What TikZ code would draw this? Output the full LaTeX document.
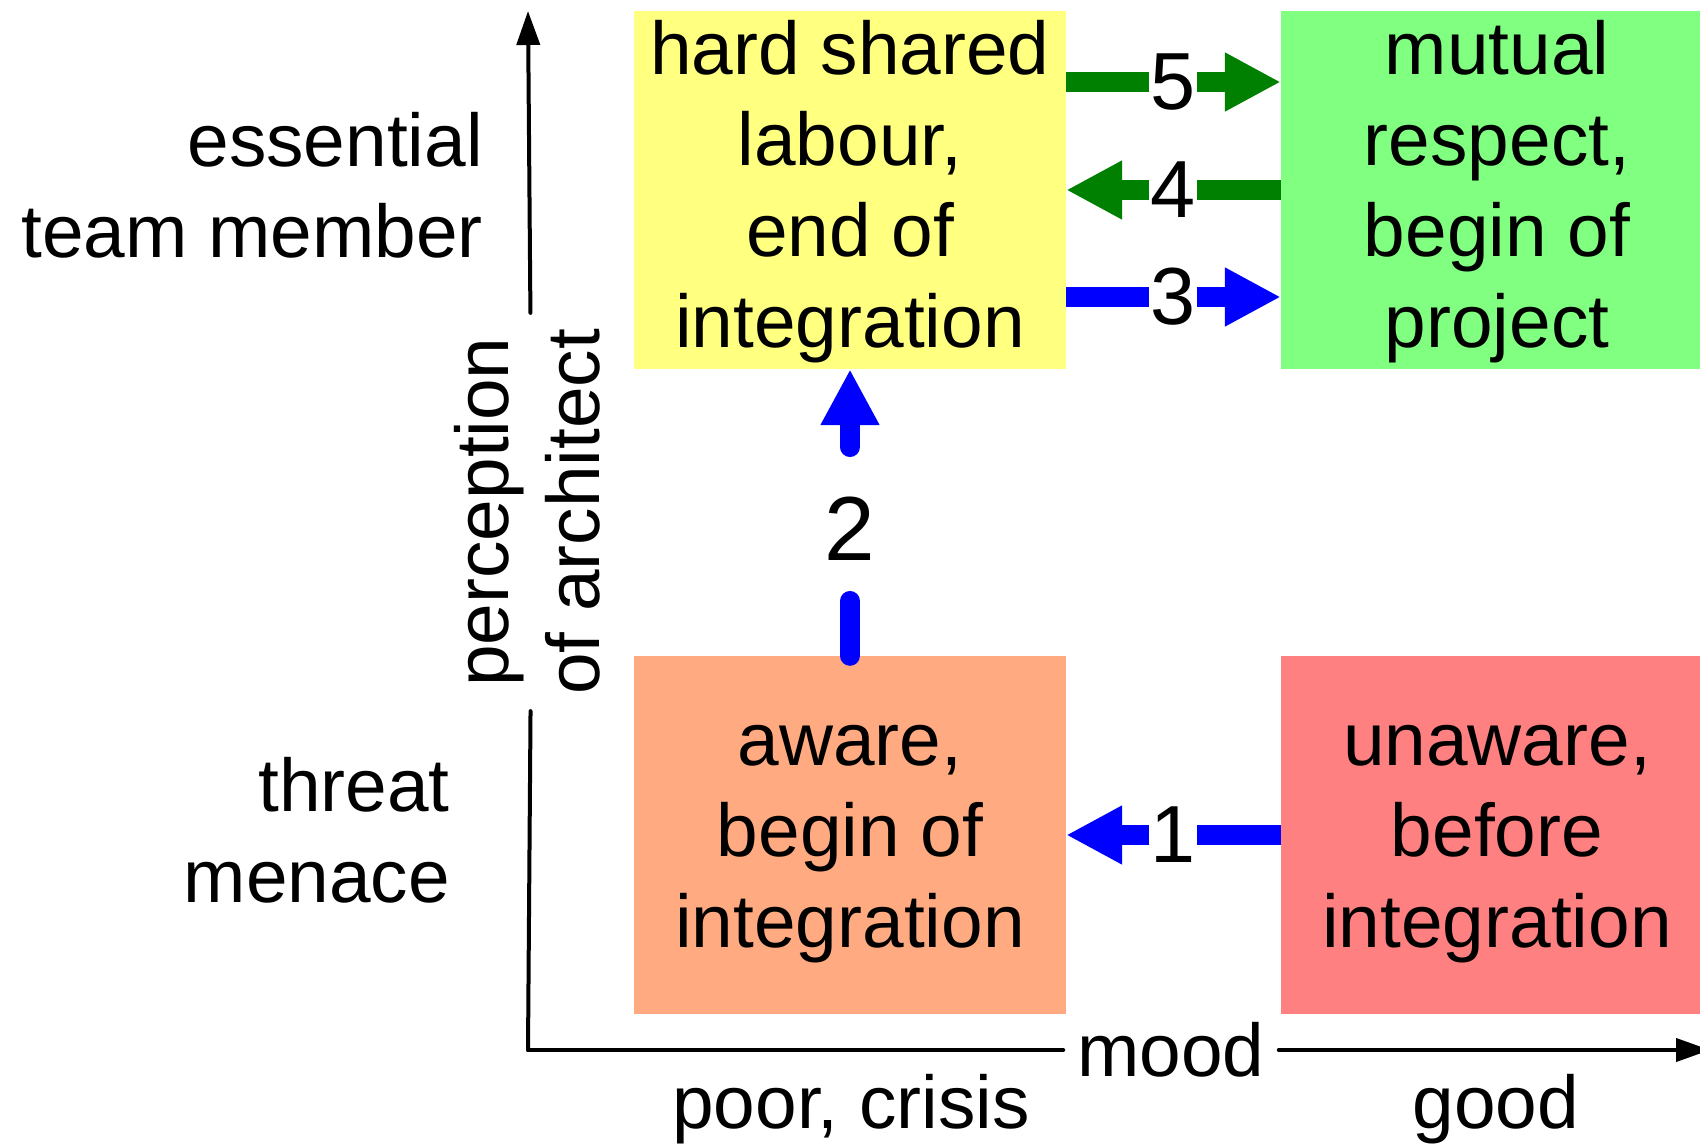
\documentclass[tikz,border=0pt]{standalone}
\usepackage{fontspec}
\setmainfont{Liberation Sans}
\usetikzlibrary{arrows.meta}
\definecolor{phaseyellow}{HTML}{FFFF80}
\definecolor{phasegreen}{HTML}{80FF80}
\definecolor{phaseorange}{HTML}{FFAA80}
\definecolor{phasered}{HTML}{FF8080}
\definecolor{movegreen}{HTML}{008000}
\newcommand{\firstline}{\rule{0pt}{64pt}}

\begin{document}
\begin{tikzpicture}
[x=1pt, y=-1pt,
 every node/.style={inner sep=0pt, font=\fontsize{74.8pt}{91pt}\selectfont},
 lines/.style={text depth=21pt},
 phase/.style={lines, minimum width=432pt, minimum height=358pt, align=center},
 step label/.style={inner sep=1pt, font=\fontsize{81pt}{91pt}\selectfont},
 move/.style={line width=20pt, -{Triangle[length=56pt, width=55pt]}},
 axis/.style={line width=4pt, line cap=round, -{Triangle[length=34pt, width=23pt]}}]
\useasboundingbox (0,0) rectangle (1700,1147);
% phases
\node (hard) [phase, fill=phaseyellow] at (850,190) {\firstline hard shared\\labour,\\end of\\integration};
\node (mutual) [phase, fill=phasegreen] at (1497,190) {\firstline mutual\\respect,\\begin of\\project};
\node (aware) [phase, fill=phaseorange] at (850,835) {\firstline aware,\\begin of\\integration};
\node (unaware) [phase, fill=phasered] at (1497,835) {\firstline unaware,\\before\\integration};
% axes
\coordinate (origin) at (528,1050);
\coordinate (ytop) at (528,11);
\coordinate (xend) at (1710,1050);
\node (ylabel) [lines, rotate=90, align=center, inner sep=16pt] at (532,512) {\firstline perception\\of architect};
\node (mood) [inner xsep=14pt] at (1171,1050) {mood};
\draw [axis] (origin) -- (ylabel) -- (ytop);
\draw [axis] (origin) -- (mood) -- (xend);
\node (essential) [lines, anchor=east, align=right] at (483,191) {\firstline essential\\team member};
\node (threat) [lines, anchor=east, align=right] at (450,835) {\firstline threat\\menace};
\node (poor) [anchor=base] at (851,1128) {poor, crisis};
\node (good) [anchor=base] at (1496,1128) {good};
% steps
\node (one) [step label] at (1173,835) {1};
\node (two) [step label, inner ysep=40pt, font=\fontsize{91pt}{100pt}\selectfont] at (850,529) {2};
\node (three) [step label] at (1173,297) {3};
\node (four) [step label] at (1173,190) {4};
\node (five) [step label] at (1173,82) {5};
\draw [move, blue] (unaware) -- (one) -- (aware);
\draw [move, blue, line cap=round, shorten <=10pt] (aware) -- (two) -- (hard);
\draw [move, blue] (hard.east |- three) -- (three) -- (mutual.west |- three);
\draw [move, movegreen] (mutual) -- (four) -- (hard);
\draw [move, movegreen] (hard.east |- five) -- (five) -- (mutual.west |- five);
\end{tikzpicture}
\end{document}
